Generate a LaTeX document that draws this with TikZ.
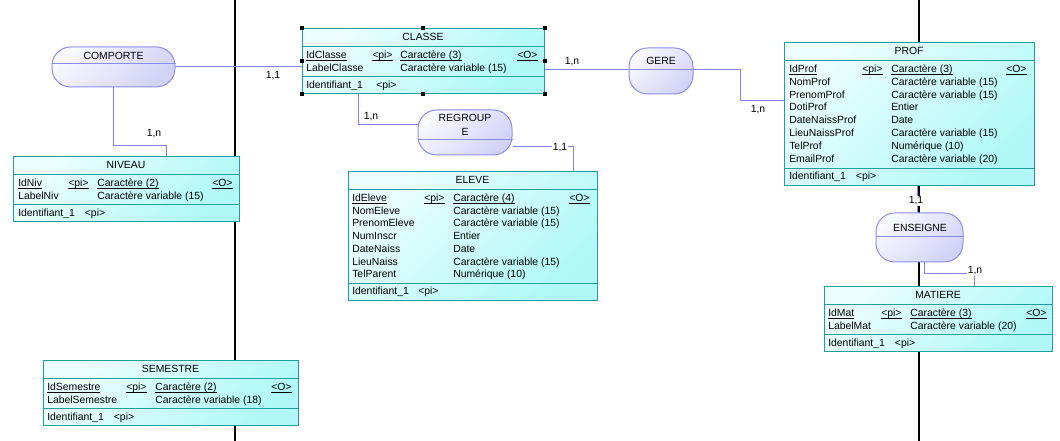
\documentclass[tikz,border=0pt]{standalone}
\usepackage{fontspec}
\setmainfont{Liberation Sans}
\usepackage{tikz}
\usetikzlibrary{fit, backgrounds}

\definecolor{entbord}{HTML}{1E9E9E}
\definecolor{entclair}{HTML}{ECFEFE}
\definecolor{entfonce}{HTML}{B0F8F8}
\definecolor{relbord}{HTML}{8C8CF0}
\definecolor{relclair}{HTML}{F8F8FF}
\definecolor{relfonce}{HTML}{D2D2F6}
\definecolor{lienbleu}{HTML}{7F7FFF}

\begin{document}
\begin{tikzpicture}[x=0.75pt, y=-0.75pt,
        every node/.style={font=\fontsize{7.8}{10.1}\selectfont, inner sep=0pt},
        entite/.style={draw=entbord, line width=0.75pt, left color=entclair, right color=entfonce, shading angle=45},
        relation/.style={draw=relbord, line width=0.75pt, left color=relclair, right color=relfonce, shading angle=45, rounded corners=14pt},
        filet/.style={draw=entbord, line width=0.75pt},
        lien/.style={draw=lienbleu, line width=0.75pt},
        card/.style={fill=white, inner sep=0.6pt},
        axe/.style={draw=black, line width=1pt}]
        \useasboundingbox (0,0) rectangle (1060,441);

        % entites
        \node[entite, fit={(302,29) (544,93.7)}]    (classe)   {};
        \node[entite, fit={(13,157) (239,221.7)}]   (niveau)   {};
        \node[entite, fit={(348,172) (597,300.3)}]  (eleve)    {};
        \node[entite, fit={(784,43) (1034,185.1)}]  (prof)     {};
        \node[entite, fit={(824,287) (1052,351.7)}] (matiere)  {};
        \node[entite, fit={(43,361) (298,425.7)}]   (semestre) {};

        % associations
        \node[relation, fit={(52,47) (175,87)}]     (comporte) {};
        \node[relation, fit={(629,48) (693,94)}]    (gere)     {};
        \node[relation, fit={(418,110) (512,155)}]  (regroupe) {};
        \node[relation, fit={(876,213) (963,262)}]  (enseigne) {};

        \draw[relbord, line width=0.75pt] (comporte.west |- 0,64) -- (comporte.east |- 0,64)
            (gere.west |- 0,70) -- (gere.east |- 0,70)
            (regroupe.west |- 0,140) -- (regroupe.east |- 0,140)
            (enseigne.west |- 0,237) -- (enseigne.east |- 0,237);
        \node (comporte-nom) at (113.5,56) {COMPORTE};
        \node (gere-nom) at (661,61) {GERE};
        \node[align=center] (regroupe-nom) at (465,124.8) {REGROUP\\E};
        \node (enseigne-nom) at (920,227.5) {ENSEIGNE};

        % CLASSE
        \draw[filet] (classe.west |- 0,46.5) -- (classe.east |- 0,46.5)
            (classe.west |- 0,76.7) -- (classe.east |- 0,76.7);
        \node[anchor=base] (classe-titre) at (423,41) {CLASSE};
        \node[anchor=base west] (classe-n0) at (306,58.3) {\underline{\smash{IdClasse}}};
        \node[anchor=base west] (classe-pi) at (372,58.3) {\underline{\smash{<pi>}}};
        \node[anchor=base west] (classe-t0) at (400,58.3) {\underline{\smash{Caractère (3)}}};
        \node[anchor=base west] (classe-o)  at (517,58.3) {\underline{\smash{<O>}}};
        \node[anchor=base west] (classe-n1) at (306,71.2) {LabelClasse};
        \node[anchor=base west] (classe-t1) at (400,71.2) {Caractère variable (15)};
        \node[anchor=base west] (classe-id) at (306,88.2) {Identifiant\_1\hspace{10pt}<pi>};
        \foreach \a in {north west, north, north east, west, east, south west, south, south east}
            \fill[black] (classe.\a) ++(-2,-2) rectangle ++(4,4);

        % NIVEAU
        \draw[filet] (niveau.west |- 0,174.5) -- (niveau.east |- 0,174.5)
            (niveau.west |- 0,204.7) -- (niveau.east |- 0,204.7);
        \node[anchor=base] (niveau-titre) at (126,169) {NIVEAU};
        \node[anchor=base west] (niveau-n0) at (18,186.3) {\underline{\smash{IdNiv}}};
        \node[anchor=base west] (niveau-pi) at (68,186.3) {\underline{\smash{<pi>}}};
        \node[anchor=base west] (niveau-t0) at (97,186.3) {\underline{\smash{Caractère (2)}}};
        \node[anchor=base west] (niveau-o)  at (212,186.3) {\underline{\smash{<O>}}};
        \node[anchor=base west] (niveau-n1) at (18,199.2) {LabelNiv};
        \node[anchor=base west] (niveau-t1) at (97,199.2) {Caractère variable (15)};
        \node[anchor=base west] (niveau-id) at (18,216.2) {Identifiant\_1\hspace{7.5pt}<pi>};

        % ELEVE
        \draw[filet] (eleve.west |- 0,189.5) -- (eleve.east |- 0,189.5)
            (eleve.west |- 0,283.3) -- (eleve.east |- 0,283.3);
        \node[anchor=base] (eleve-titre) at (472.5,184) {ELEVE};
        \node[anchor=base west] (eleve-n0) at (352,201.3) {\underline{\smash{IdEleve}}};
        \node[anchor=base west] (eleve-pi) at (424,201.3) {\underline{\smash{<pi>}}};
        \node[anchor=base west] (eleve-t0) at (453,201.3) {\underline{\smash{Caractère (4)}}};
        \node[anchor=base west] (eleve-o)  at (569,201.3) {\underline{\smash{<O>}}};
        \foreach \nom/\typ [count=\i] in {NomEleve/Caractère variable (15), PrenomEleve/Caractère variable (15),
                NumInscr/Entier, DateNaiss/Date, LieuNaiss/Caractère variable (15), TelParent/Numérique (10)} {
            \node[anchor=base west] (eleve-n\i) at (352,{201.3+12.75*\i}) {\nom};
            \node[anchor=base west] (eleve-t\i) at (453,{201.3+12.75*\i}) {\typ};
        }
        \node[anchor=base west] (eleve-id) at (352,294.8) {Identifiant\_1\hspace{7pt}<pi>};

        % PROF
        \draw[filet] (prof.west |- 0,60.5) -- (prof.east |- 0,60.5)
            (prof.west |- 0,168.1) -- (prof.east |- 0,168.1);
        \node[anchor=base] (prof-titre) at (909,55) {PROF};
        \node[anchor=base west] (prof-n0) at (789,72.3) {\underline{\smash{IdProf}}};
        \node[anchor=base west] (prof-pi) at (862,72.3) {\underline{\smash{<pi>}}};
        \node[anchor=base west] (prof-t0) at (891,72.3) {\underline{\smash{Caractère (3)}}};
        \node[anchor=base west] (prof-o)  at (1006,72.3) {\underline{\smash{<O>}}};
        \foreach \nom/\typ [count=\i] in {NomProf/Caractère variable (15), PrenomProf/Caractère variable (15),
                DotiProf/Entier, DateNaissProf/Date, LieuNaissProf/Caractère variable (15),
                TelProf/Numérique (10), EmailProf/Caractère variable (20)} {
            \node[anchor=base west] (prof-n\i) at (789,{72.3+12.9*\i}) {\nom};
            \node[anchor=base west] (prof-t\i) at (891,{72.3+12.9*\i}) {\typ};
        }
        \node[anchor=base west] (prof-id) at (789,179.6) {Identifiant\_1\hspace{7.5pt}<pi>};

        % MATIERE
        \draw[filet] (matiere.west |- 0,304.5) -- (matiere.east |- 0,304.5)
            (matiere.west |- 0,334.7) -- (matiere.east |- 0,334.7);
        \node[anchor=base] (matiere-titre) at (938,299) {MATIERE};
        \node[anchor=base west] (matiere-n0) at (828,316.3) {\underline{\smash{IdMat}}};
        \node[anchor=base west] (matiere-pi) at (881,316.3) {\underline{\smash{<pi>}}};
        \node[anchor=base west] (matiere-t0) at (910,316.3) {\underline{\smash{Caractère (3)}}};
        \node[anchor=base west] (matiere-o)  at (1026,316.3) {\underline{\smash{<O>}}};
        \node[anchor=base west] (matiere-n1) at (828,329.2) {LabelMat};
        \node[anchor=base west] (matiere-t1) at (910,329.2) {Caractère variable (20)};
        \node[anchor=base west] (matiere-id) at (828,346.2) {Identifiant\_1\hspace{7.5pt}<pi>};

        % SEMESTRE
        \draw[filet] (semestre.west |- 0,378.5) -- (semestre.east |- 0,378.5)
            (semestre.west |- 0,408.7) -- (semestre.east |- 0,408.7);
        \node[anchor=base] (semestre-titre) at (170.5,373) {SEMESTRE};
        \node[anchor=base west] (semestre-n0) at (47,390.3) {\underline{\smash{IdSemestre}}};
        \node[anchor=base west] (semestre-pi) at (126,390.3) {\underline{\smash{<pi>}}};
        \node[anchor=base west] (semestre-t0) at (155,390.3) {\underline{\smash{Caractère (2)}}};
        \node[anchor=base west] (semestre-o)  at (271,390.3) {\underline{\smash{<O>}}};
        \node[anchor=base west] (semestre-n1) at (47,403.2) {LabelSemestre};
        \node[anchor=base west] (semestre-t1) at (155,403.2) {Caractère variable (18)};
        \node[anchor=base west] (semestre-id) at (47,420.2) {Identifiant\_1\hspace{7.5pt}<pi>};

        % liens
        \begin{scope}[on background layer]
            \fill[white] (0,0) rectangle (1060,441);
            \draw[axe] (235,0) -- (235,441);
            \draw[axe] (919,0) -- (919,441);
            \draw[lien] (comporte.east |- 0,67) -- (classe.west |- 0,67);
            \draw[lien] (comporte.south -| 113,0) |- (166,146) -- (niveau.north -| 166,0);
            \draw[lien] (classe.east |- 0,70) -- (gere.west |- 0,70);
            \draw[lien] (gere.east |- 0,70) -| (740,101) -- (prof.west |- 0,101);
            \draw[lien] (classe.south -| 358,0) |- (regroupe.west |- 0,125);
            \draw[lien] (regroupe.east |- 0,147) -| (eleve.north -| 573,0);
            \draw[lien] (prof.south -| 917,0) -- (enseigne.north -| 917,0);
            \draw[lien] (enseigne.south -| 924,0) |- (974,274) -- (matiere.north -| 974,0);
        \end{scope}

        % cardinalites
        \node[card] (c-comporte-classe) at (273,76) {1,1};
        \node[card] (c-comporte-niveau) at (154,134) {1,n};
        \node[card] (c-gere-classe) at (572,62) {1,n};
        \node[card] (c-gere-prof) at (758,109.5) {1,n};
        \node[card] (c-regroupe-classe) at (371,117) {1,n};
        \node[card] (c-regroupe-eleve) at (560,148) {1,1};
        \node[card] (c-enseigne-prof) at (916,201) {1,1};
        \node[card] (c-enseigne-matiere) at (975,271) {1,n};
\end{tikzpicture}
\end{document}
